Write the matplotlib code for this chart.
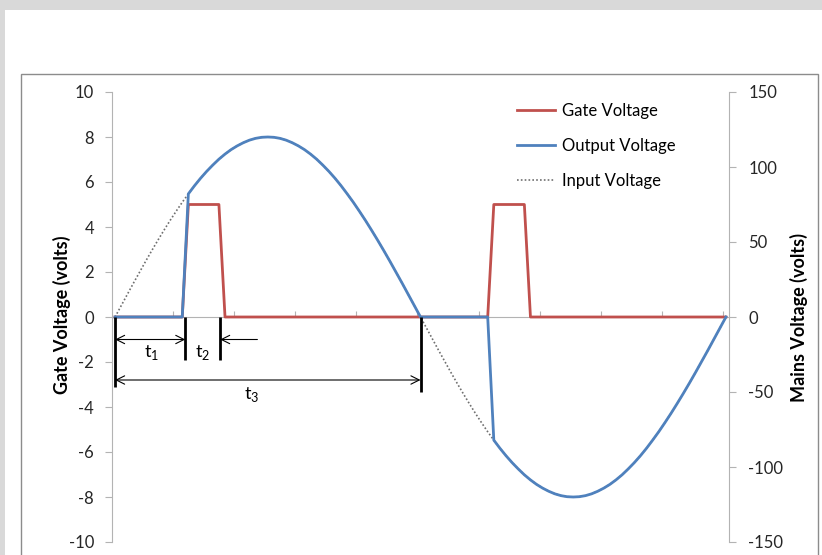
import matplotlib.pyplot as plt
import matplotlib.patches as patches
import numpy as np

plt.rcParams['font.family'] = ['Lato', 'DejaVu Sans']
plt.rcParams['mathtext.fontset'] = 'custom'
plt.rcParams['mathtext.rm'] = 'Lato'
plt.rcParams['axes.unicode_minus'] = False

# mains (input) voltage in volts, one value per step (3.6 deg each)
mains = [0, 7.5, 15.0, 22.5, 29.8, 37.1, 44.2, 51.1, 57.8, 64.3, 70.5, 76.5, 82.1,
         87.5, 92.5, 97.1, 101.3, 105.2, 108.6, 111.6, 114.1, 116.2, 117.9, 119.1,
         119.8, 120.0, 119.8, 119.1, 117.9, 116.2, 114.1, 111.6, 108.6, 105.2, 101.3,
         97.1, 92.5, 87.5, 82.1, 76.5, 70.5, 64.3, 57.8, 51.1, 44.2, 37.1, 29.8, 22.5,
         15.0, 7.5, 0,
         -7.5, -15.0, -22.5, -29.8, -37.1, -44.2, -51.1, -57.8, -64.3, -70.5, -76.5,
         -82.1, -87.5, -92.5, -97.1, -101.3, -105.2, -108.6, -111.6, -114.1, -116.2,
         -117.9, -119.1, -119.8, -120.0, -119.8, -119.1, -117.9, -116.2, -114.1,
         -111.6, -108.6, -105.2, -101.3, -97.1, -92.5, -87.5, -82.1, -76.5, -70.5,
         -64.3, -57.8, -51.1, -44.2, -37.1, -29.8, -22.5, -15.0, -7.5, 0]

output = [0, 0, 0, 0, 0, 0, 0, 0, 0, 0, 0, 0, 82.1,
          87.5, 92.5, 97.1, 101.3, 105.2, 108.6, 111.6, 114.1, 116.2, 117.9, 119.1,
          119.8, 120.0, 119.8, 119.1, 117.9, 116.2, 114.1, 111.6, 108.6, 105.2, 101.3,
          97.1, 92.5, 87.5, 82.1, 76.5, 70.5, 64.3, 57.8, 51.1, 44.2, 37.1, 29.8, 22.5,
          15.0, 7.5, 0,
          0, 0, 0, 0, 0, 0, 0, 0, 0, 0, 0,
          -82.1, -87.5, -92.5, -97.1, -101.3, -105.2, -108.6, -111.6, -114.1, -116.2,
          -117.9, -119.1, -119.8, -120.0, -119.8, -119.1, -117.9, -116.2, -114.1,
          -111.6, -108.6, -105.2, -101.3, -97.1, -92.5, -87.5, -82.1, -76.5, -70.5,
          -64.3, -57.8, -51.1, -44.2, -37.1, -29.8, -22.5, -15.0, -7.5, 0]

gate_x = [0, 11, 12, 17, 18, 61, 62, 67, 68, 100]
gate_v = [0, 0, 5, 5, 0, 0, 5, 5, 0, 0]

# timing marks: (x, bottom y) in gate-axis units
marks_x = [0, 11.5, 17.2, 50]
marks_bottom = [-3.1, -1.9, -1.9, -3.35]

steps = np.arange(len(mains))

W, H = 822, 555
fig = plt.figure(figsize=(W/100, H/100), dpi=100)
fig.patch.set_facecolor('#d9d9d9')
fig.patches.append(patches.Rectangle((5/W, -0.01), 1, 1 - 10/H + 0.01, transform=fig.transFigure,
                                     facecolor='white', edgecolor='none', zorder=-10))
fig.patches.append(patches.Rectangle((21/W, -0.02), (818-21)/W, 1 - 74/H + 0.02, transform=fig.transFigure,
                                     facecolor='none', edgecolor='#8c8c8c', lw=1.0, zorder=-9))

ax = fig.add_axes([112/W, 1 - 542/H, 617/W, 450/H])
ax.patch.set_alpha(0)
ax2 = ax.twinx()
ax2.patch.set_alpha(0)

grey = '#b3b3b3'
red = '#c0504d'
blue = '#4f81bd'

l1, = ax.plot(gate_x, gate_v, color=red, lw=2.0, label='Gate Voltage', zorder=2)
l3, = ax2.plot(steps, mains, color='#6f6f6f', lw=1.2, ls=(0, (1, 1.3)), label='Input Voltage', zorder=2)
l2, = ax2.plot(steps, output, color=blue, lw=2.0, label='Output Voltage', zorder=3)

ax.set_xlim(-0.5, 100.5)
ax.set_ylim(-10, 10)
ax2.set_ylim(-150, 150)
ax.set_yticks(np.arange(-10, 11, 2))
ax2.set_yticks(np.arange(-150, 151, 50))

for s in ['top', 'right']:
    ax.spines[s].set_visible(False)
for s in ['top', 'left', 'bottom']:
    ax2.spines[s].set_visible(False)
ax.spines['left'].set_color(grey)
ax2.spines['right'].set_color(grey)
ax.spines['bottom'].set_position(('data', 0))
ax.spines['bottom'].set_color(grey)
ax.spines['bottom'].set_zorder(1)

ax.set_xticks(np.arange(9.5, 100, 10))
ax.tick_params(axis='x', direction='in', length=4, color=grey, labelbottom=False)
ax.tick_params(axis='y', direction='out', length=5, color=grey, labelsize=12, labelcolor='#262626', pad=8)
ax2.tick_params(axis='y', direction='out', length=5, color=grey, labelsize=12, labelcolor='#262626', pad=9)

ax.set_ylabel('Gate Voltage (volts)', fontsize=13, fontweight='bold')
ax.yaxis.set_label_coords(-0.067, 0.505)
ax2.set_ylabel('Mains Voltage (volts)', fontsize=13, fontweight='bold')
ax2.yaxis.set_label_coords(1.099, 0.5)

# timing annotations
for mx, mb in zip(marks_x, marks_bottom):
    ax2.plot([mx, mx], [0, mb * 15], color='black', lw=2.0, solid_capstyle='butt', zorder=4)
arrow = dict(arrowstyle='<->,head_length=0.6,head_width=0.3', color='black', lw=0.8,
             shrinkA=0, shrinkB=0)
ax.annotate('', xy=(0, -1.0), xytext=(11.5, -1.0), arrowprops=arrow)
ax.annotate('', xy=(0, -2.8), xytext=(50, -2.8), arrowprops=arrow)
ax.annotate('', xy=(17.2, -1.0), xytext=(23.3, -1.0),
            arrowprops=dict(arrowstyle='->,head_length=0.6,head_width=0.3', color='black', lw=0.8,
                            shrinkA=0, shrinkB=0))
ax.text(5.9, -1.6, 't$_1$', fontsize=13, ha='center', va='center')
ax.text(14.3, -1.6, 't$_2$', fontsize=13, ha='center', va='center')
ax.text(22.3, -3.45, 't$_3$', fontsize=13, ha='center', va='center')

ax2.legend(handles=[l1, l2, l3], loc='upper left', bbox_to_anchor=(0.656, 0.975),
           frameon=False, fontsize=12, handlelength=2.3, handletextpad=0.4,
           labelspacing=1.12, borderpad=0, borderaxespad=0)

fig.savefig('out.png', dpi=100, facecolor=fig.get_facecolor())
